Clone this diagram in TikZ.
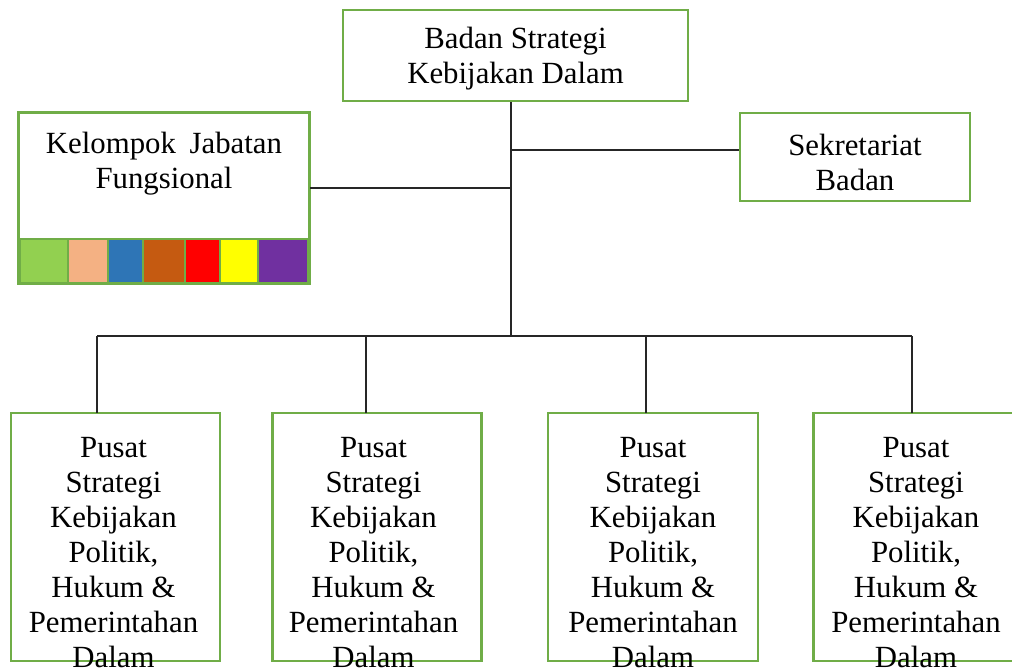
\documentclass[tikz,border=0pt]{standalone}
\usepackage{fontspec}
\setmainfont{Liberation Serif}
\definecolor{boxgreen}{HTML}{70AD47}
\definecolor{lineblack}{HTML}{262626}
\definecolor{c1}{HTML}{92D050}
\definecolor{c2}{HTML}{F4B183}
\definecolor{c3}{HTML}{2E75B6}
\definecolor{c4}{HTML}{C55A11}
\definecolor{c5}{HTML}{FF0000}
\definecolor{c6}{HTML}{FFFF00}
\definecolor{c7}{HTML}{7030A0}
\begin{document}
\begin{tikzpicture}[x=1pt,y=-1pt,
  greenbox/.style={draw=boxgreen, line width=2.2pt, fill=white, rectangle, inner sep=0pt},
  label/.style={font=\fontsize{30.8}{35}\selectfont, align=center, inner sep=0pt},
  conn/.style={draw=lineblack, line width=1.2pt},
  cell/.style={draw=boxgreen, line width=1.8pt, rectangle, inner sep=0pt}
]
\useasboundingbox (0,0) rectangle (1012,670);

% top box
\node[greenbox, minimum width=345pt, minimum height=91pt] (top) at (515.5,55.5) {};
\node[label] (toptext) at (515.5,59) {Badan Strategi\\Kebijakan Dalam};

% Sekretariat
\node[greenbox, minimum width=230pt, minimum height=88pt] (sek) at (855,157) {};
\node[label] (sektext) at (855,162) {Sekretariat\\Badan};

% Kelompok Jabatan Fungsional
\node[greenbox, minimum width=290pt, minimum height=170pt] (kjf) at (164,198) {};
\node[label] (kjftext) at (164,164) {Kelompok\hspace{6pt} Jabatan\\Fungsional};
\foreach \a/\b/\c [count=\i] in {20/68/c1, 68/108/c2, 108/143/c3, 143/185/c4, 185/220/c5, 220/258/c6, 258/308/c7}{
  \node[cell, fill=\c, minimum width={\b-\a}, minimum height=44pt] (cell\i) at ({(\a+\b)/2},261) {};
}
\draw[draw=boxgreen, line width=2.2pt] (kjf.north west) rectangle (kjf.south east);

% junctions
\coordinate (j) at (511,336);
\coordinate (jsek) at (511,150);
\coordinate (jkjf) at (511,188);

% bottom boxes
\foreach \x [count=\i] in {115.5, 377, 653, 918}{
  \node[greenbox, minimum width={\i==3 ? 210 : 209}, minimum height=248pt] (p\i) at (\x,537) {};
}
\foreach \tx [count=\i] in {113.5, 373.5, 653, 916}{
  \node[label] (pt\i) at (\tx,553) {Pusat\\Strategi\\Kebijakan\\Politik,\\Hukum \&\\Pemerintahan\\Dalam};
}
\coordinate (d1) at (97,413);
\coordinate (d2) at (366,413);
\coordinate (d3) at (646,413);
\coordinate (d4) at (912,413);

% connectors
\draw[conn] (top.south -| j) -- (j);
\draw[conn] (jsek) -- (jsek -| sek.west);
\draw[conn] (jkjf) -- (jkjf -| kjf.east);
\draw[conn] (d1 |- j) -- (d4 |- j);
\foreach \i in {1,2,3,4}{
  \draw[conn] (d\i |- j) -- (d\i);
}
\end{tikzpicture}
\end{document}
